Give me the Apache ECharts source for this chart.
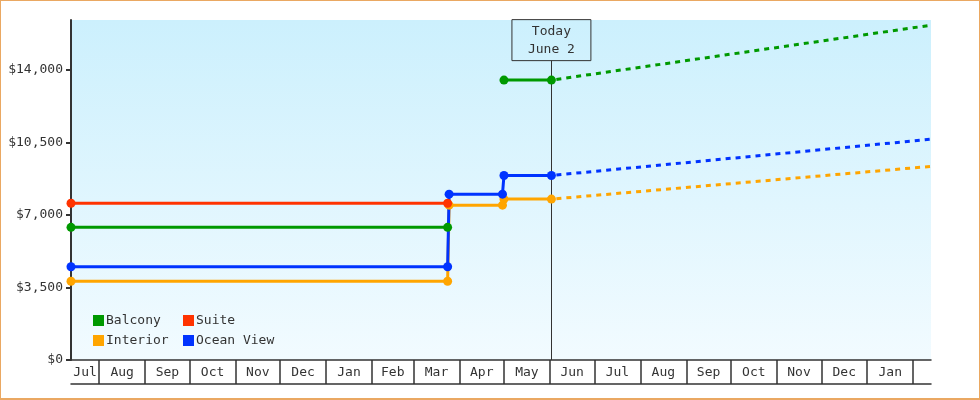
<!DOCTYPE html>
<html>
<head>
<meta charset="utf-8">
<title>Cabin prices</title>
<script src="https://cdn.jsdelivr.net/npm/echarts@6/dist/echarts.min.js"></script>
<style>
  html, body { margin: 0; padding: 0; background: #fff; }
  #main { position: absolute; left: 0; top: 0; width: 980px; height: 400px; }
  #frame { position: absolute; left: 0; top: 0; width: 980px; height: 400px; box-sizing: border-box;
           border: 1px solid #eaa862; border-bottom-width: 2px; pointer-events: none; }
</style>
</head>
<body>
<div id="main"></div>
<div id="frame"></div>
<script>
// x axis: first day shown, month starts, last day shown
var axisStart = "2014-07-13";
var axisEnd = "2016-02-13";
var monthStarts = ["2014-08-01", "2014-09-01", "2014-10-01", "2014-11-01", "2014-12-01",
  "2015-01-01", "2015-02-01", "2015-03-01", "2015-04-01", "2015-05-01", "2015-06-01",
  "2015-07-01", "2015-08-01", "2015-09-01", "2015-10-01", "2015-11-01", "2015-12-01",
  "2016-01-01", "2016-02-01"];
var monthLabels = ["Jul", "Aug", "Sep", "Oct", "Nov", "Dec", "Jan", "Feb", "Mar", "Apr",
  "May", "Jun", "Jul", "Aug", "Sep", "Oct", "Nov", "Dec", "Jan"];

var yTicks = [0, 3500, 7000, 10500, 14000];
var yMax = 16400;

var today = "2015-06-02";
var todayText = "Today\nJune 2";
var todayTop = 14440;

// prices so far
var balcony = [["2014-07-13", 6400], ["2015-03-24", 6400], ["2015-04-15", null],
  ["2015-05-01", 13500], ["2015-06-02", 13500]];
var suite = [["2014-07-13", 7560], ["2015-03-24", 7560]];
var interior = [["2014-07-13", 3800], ["2015-03-24", 3800], ["2015-03-25", 7470],
  ["2015-04-30", 7470], ["2015-05-01", 7760], ["2015-06-02", 7760]];
var oceanView = [["2014-07-13", 4500], ["2015-03-24", 4500], ["2015-03-25", 8000],
  ["2015-04-30", 8000], ["2015-05-01", 8900], ["2015-06-02", 8900]];

// forecast (dotted)
var balconyForecast = [["2015-06-02", 13500], ["2016-02-13", 16150]];
var interiorForecast = [["2015-06-02", 7760], ["2016-02-13", 9340]];
var oceanViewForecast = [["2015-06-02", 8900], ["2016-02-13", 10650]];

var colors = { Balcony: "#009900", Suite: "#ff3300", Interior: "#ffa500", "Ocean View": "#0033ff" };
var font = "DejaVu Sans Mono";

var toTime = function (s) { return +echarts.time.parse(s); };
var tMin = toTime(axisStart), tMax = toTime(axisEnd);
var bounds = monthStarts.map(toTime);
var edges = [tMin].concat(bounds);
var labelValues = [];
for (var i = 0; i < monthLabels.length; i++) {
  labelValues.push((edges[i] + edges[i + 1]) / 2);
}

function conv(arr) {
  return arr.map(function (d) { return [toTime(d[0]), d[1] === null ? "-" : d[1]]; });
}

function solid(name, data) {
  return {
    name: name, type: "line", data: conv(data), color: colors[name],
    symbol: "circle", symbolSize: 9, showAllSymbol: true,
    lineStyle: { width: 3, color: colors[name] },
    itemStyle: { color: colors[name] },
    connectNulls: false, animation: false, z: 3
  };
}
function dotted(name, data) {
  return {
    name: name, type: "line", data: conv(data), color: colors[name],
    symbol: "none",
    lineStyle: { width: 3, color: colors[name], type: [5, 5], dashOffset: 5 },
    itemStyle: { color: colors[name] },
    animation: false, z: 3
  };
}

var series = [
  solid("Balcony", balcony),
  solid("Interior", interior),
  solid("Suite", suite),
  solid("Ocean View", oceanView),
  dotted("Balcony", balconyForecast),
  dotted("Interior", interiorForecast),
  dotted("Ocean View", oceanViewForecast)
];
series[2].markLine = {
  symbol: "none", silent: true, animation: false, z: 1,
  lineStyle: { color: "#333", width: 1, type: "solid" },
  label: {
    show: true, position: "end", distance: 0, formatter: todayText,
    color: "#333", fontFamily: font, fontSize: 13, lineHeight: 18,
    borderColor: "#333", borderWidth: 1, padding: [3, 16, 2, 16]
  },
  data: [[{ coord: [toTime(today), 0] }, { coord: [toTime(today), todayTop] }]]
};

var legendBase = {
  orient: "vertical", top: 314, padding: 0, itemWidth: 11, itemHeight: 11, itemGap: 7, icon: "rect",
  selectedMode: false,
  textStyle: { fontFamily: font, fontSize: 13, color: "#333", padding: [0, 0, 0, -3] }
};

var chart = echarts.init(document.getElementById("main"));
chart.setOption({
  animation: false,
  grid: {
    left: 71, right: 49, top: 20, bottom: 40, show: true, borderWidth: 0,
    backgroundColor: new echarts.graphic.LinearGradient(0, 0, 0, 1, [
      { offset: 0, color: "#ccf0fd" }, { offset: 1, color: "#f2fbff" }
    ])
  },
  legend: [
    Object.assign({}, legendBase, { left: 93, data: ["Balcony", "Interior"] }),
    Object.assign({}, legendBase, { left: 183, data: ["Suite", "Ocean View"] })
  ],
  xAxis: [{
    type: "value", min: tMin, max: tMax, scale: true,
    axisLine: { show: true, lineStyle: { color: "#333", width: 1.5 } },
    axisTick: { show: true, customValues: bounds, length: 24, lineStyle: { color: "#333", width: 1.5 } },
    axisLabel: {
      customValues: labelValues, margin: 6, color: "#333", fontFamily: font, fontSize: 13,
      formatter: function (v) {
        var best = 0;
        for (var k = 1; k < labelValues.length; k++) {
          if (Math.abs(labelValues[k] - v) < Math.abs(labelValues[best] - v)) best = k;
        }
        return monthLabels[best];
      }
    },
    splitLine: { show: false }
  }, {
    type: "value", min: tMin, max: tMax, scale: true, position: "bottom", offset: 24,
    axisLine: { show: true, lineStyle: { color: "#333", width: 1.5 } },
    axisTick: { show: false }, axisLabel: { show: false }, splitLine: { show: false }
  }],
  yAxis: {
    type: "value", min: 0, max: yMax,
    axisLine: { show: true, lineStyle: { color: "#333", width: 2 } },
    axisTick: { show: true, customValues: yTicks, length: 5, lineStyle: { color: "#333", width: 2 } },
    axisLabel: {
      customValues: yTicks, margin: 8, color: "#333", fontFamily: font, fontSize: 13,
      formatter: function (v) { return "$" + v.toLocaleString("en-US"); }
    },
    splitLine: { show: false }
  },
  series: series
});
</script>
</body>
</html>
